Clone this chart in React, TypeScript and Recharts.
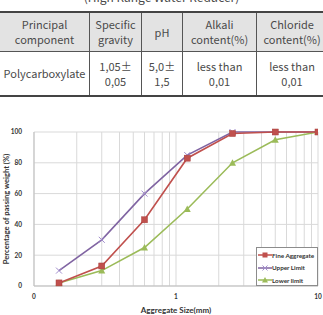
import { LineChart, Line, XAxis, YAxis, CartesianGrid, Label } from 'recharts'

// sieve opening (mm) and percentage passing per curve
const sieveSizes = [0.15, 0.3, 0.6, 1.2, 2.5, 5, 10]
const fineAggregate = [2, 13, 43, 83, 99, 100, 100]
const upperLimit = [10, 30, 60, 85, 100, 100, 100]
const lowerLimit = [2, 10, 25, 50, 80, 95, 100]

const xTicks = [0.1, 0.2, 0.3, 0.4, 0.5, 0.6, 0.7, 0.8, 0.9, 1, 2, 3, 4, 5, 6, 7, 8, 9, 10]
const xTickLabels: Record<string, string> = { '0.1': '0', '1': '1', '10': '10' }
const yTicks = [0, 20, 40, 60, 80, 100]

const tableHeader = ['Principal\ncomponent', 'Specific\ngravity', 'pH', 'Alkali\ncontent(%)', 'Chloride\ncontent(%)']
const tableRow = ['Polycarboxylate', '1,05±\n0,05', '5,0±\n1,5', 'less than\n0,01', 'less than\n0,01']
const colWidths = [89, 51, 40, 73, 70]

const RED = '#c0504d'
const PURPLE = '#8064a2'
const GREEN = '#9bbb59'
const LABEL_FONT = 'Lato, sans-serif'

const data = sieveSizes.map((size, i) => ({
  size,
  fine: fineAggregate[i],
  upper: upperLimit[i],
  lower: lowerLimit[i],
}))

const series = [
  { key: 'fine', name: 'Fine Aggregate', color: RED },
  { key: 'upper', name: 'Upper Limit', color: PURPLE },
  { key: 'lower', name: 'Lower limit', color: GREEN },
]

function SquareDot(props: any) {
  const { cx, cy } = props
  if (cx == null || cy == null) return null
  return <rect x={cx - 3} y={cy - 3} width={6} height={6} fill={RED} stroke="#a9403d" strokeWidth={0.5} />
}

function CrossDot(props: any) {
  const { cx, cy } = props
  if (cx == null || cy == null) return null
  return (
    <g stroke="#a08ccc" strokeWidth={1}>
      <line x1={cx - 3} y1={cy - 3} x2={cx + 3} y2={cy + 3} />
      <line x1={cx - 3} y1={cy + 3} x2={cx + 3} y2={cy - 3} />
    </g>
  )
}

function TriangleDot(props: any) {
  const { cx, cy } = props
  if (cx == null || cy == null) return null
  return <polygon points={`${cx},${cy - 3.5} ${cx + 3.5},${cy + 3} ${cx - 3.5},${cy + 3}`} fill={GREEN} />
}

const markerFor: Record<string, (x: number, y: number) => JSX.Element> = {
  fine: (x, y) => <rect x={x - 2.5} y={y - 2.5} width={5} height={5} fill={RED} />,
  upper: (x, y) => (
    <g stroke="#a08ccc" strokeWidth={1}>
      <line x1={x - 2.5} y1={y - 2.5} x2={x + 2.5} y2={y + 2.5} />
      <line x1={x - 2.5} y1={y + 2.5} x2={x + 2.5} y2={y - 2.5} />
    </g>
  ),
  lower: (x, y) => <polygon points={`${x},${y - 3} ${x + 3},${y + 2.5} ${x - 3},${y + 2.5}`} fill={GREEN} />,
}

function LegendBox() {
  return (
    <div
      style={{
        position: 'absolute',
        left: 256,
        top: 247,
        width: 62,
        height: 39,
        border: '1px solid #8c8c8c',
        background: '#fff',
        boxSizing: 'border-box',
        padding: '1px 0 0 1px',
        fontFamily: LABEL_FONT,
        fontWeight: 700,
        fontSize: 6.3,
        color: '#333',
      }}
    >
      {series.map(s => (
        <div key={s.key} style={{ display: 'flex', alignItems: 'center', height: 12.5 }}>
          <svg width={14} height={8} style={{ flex: 'none' }}>
            <line x1={0} y1={4} x2={14} y2={4} stroke={s.color} strokeWidth={1.5} />
            {markerFor[s.key](7, 4)}
          </svg>
          <span style={{ whiteSpace: 'nowrap' }}>{s.name}</span>
        </div>
      ))}
    </div>
  )
}

function SpecTable() {
  const cell = (text: string, i: number, header: boolean) => (
    <td
      key={i}
      style={{
        width: colWidths[i],
        padding: 0,
        textAlign: 'center',
        whiteSpace: 'pre-line',
        lineHeight: '15px',
        borderLeft: i === 0 ? 'none' : '1px solid #555',
        borderBottom: header ? '1px solid #555' : '2px solid #444',
        borderTop: header ? '2px solid #444' : 'none',
        background: header ? '#e3e3e3' : '#fff',
        height: header ? 38 : 43,
      }}
    >
      {text}
    </td>
  )
  return (
    <table
      style={{
        position: 'absolute',
        top: 11,
        left: 0,
        width: 323,
        borderCollapse: 'collapse',
        tableLayout: 'fixed',
        fontFamily: '"Noto Sans CJK KR", sans-serif',
        fontSize: 11,
        color: '#4a4a4a',
      }}
    >
      <tbody>
        <tr>{tableHeader.map((t, i) => cell(t, i, true))}</tr>
        <tr>{tableRow.map((t, i) => cell(t, i, false))}</tr>
      </tbody>
    </table>
  )
}

export default function App() {
  return (
    <div style={{ position: 'absolute', top: 0, left: 0, width: 323, height: 315, overflow: 'hidden', background: '#fff' }}>
      <div
        style={{
          position: 'absolute',
          top: -12,
          left: 0,
          width: 323,
          textAlign: 'center',
          fontFamily: '"Noto Sans CJK KR", sans-serif',
          fontSize: 12,
          color: '#4a4a4a',
        }}
      >
        (High Range Water Reducer)
      </div>
      <SpecTable />
      <div style={{ position: 'absolute', top: 0, left: 0 }}>
        <LineChart width={323} height={315} data={data} margin={{ top: 132, right: 5, bottom: 0, left: 0 }}>
          <CartesianGrid stroke="#d9d9d9" strokeWidth={1} />
          <XAxis
            dataKey="size"
            type="number"
            scale="log"
            domain={[0.1, 10]}
            ticks={xTicks}
            interval={0}
            tickLine={false}
            axisLine={{ stroke: '#bfbfbf' }}
            tick={{ fontSize: 6.5, fontWeight: 700, fill: '#333', fontFamily: LABEL_FONT }}
            tickFormatter={(v: number) => xTickLabels[String(v)] ?? ''}
            tickMargin={2}
            height={29}
            allowDataOverflow
          >
            <Label
              value="Aggregate Size(mm)"
              position="insideBottom"
              offset={2}
              style={{ fontSize: 8, fontWeight: 700, fill: '#333', fontFamily: LABEL_FONT }}
            />
          </XAxis>
          <YAxis
            type="number"
            domain={[0, 100]}
            ticks={yTicks}
            width={34}
            tickLine={false}
            axisLine={{ stroke: '#bfbfbf' }}
            tick={{ fontSize: 6.5, fontWeight: 700, fill: '#333', fontFamily: LABEL_FONT }}
            tickMargin={6}
          >
            <Label
              value="Percentage of passing weight (%)"
              angle={-90}
              position="insideLeft"
              offset={6}
              style={{ textAnchor: 'middle', fontSize: 7.6, fontWeight: 700, fill: '#333', fontFamily: LABEL_FONT }}
            />
          </YAxis>
          <Line dataKey="upper" name="Upper Limit" stroke={PURPLE} strokeWidth={1.6} dot={<CrossDot />} isAnimationActive={false} />
          <Line dataKey="lower" name="Lower limit" stroke={GREEN} strokeWidth={1.6} dot={<TriangleDot />} isAnimationActive={false} />
          <Line dataKey="fine" name="Fine Aggregate" stroke={RED} strokeWidth={1.6} dot={<SquareDot />} isAnimationActive={false} />
        </LineChart>
      </div>
      <LegendBox />
    </div>
  )
}
